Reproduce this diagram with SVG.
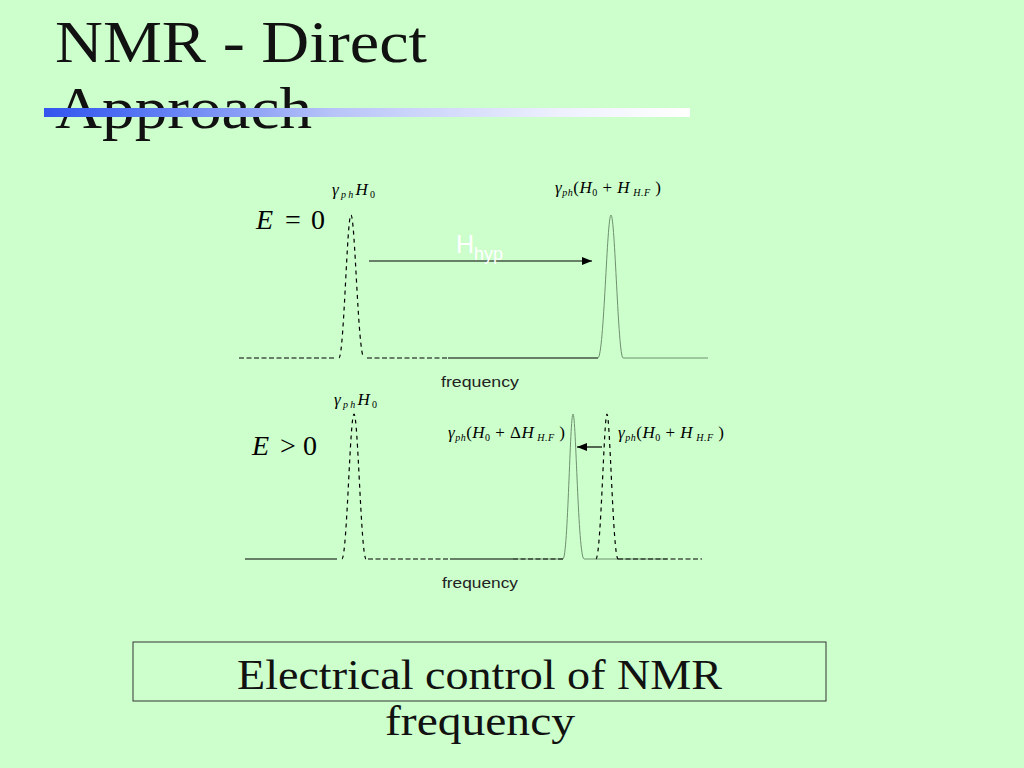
<svg xmlns="http://www.w3.org/2000/svg" width="1024" height="768" viewBox="0 0 1024 768">
<defs>
<linearGradient id="bar" x1="0" y1="0" x2="1" y2="0">
<stop offset="0" stop-color="#3355ee"/>
<stop offset="0.12" stop-color="#4d6ef2"/>
<stop offset="0.45" stop-color="#b8c4f8"/>
<stop offset="0.8" stop-color="#eef0fd"/>
<stop offset="1" stop-color="#ffffff"/>
</linearGradient>
<marker id="ah" viewBox="0 0 10 8" refX="10" refY="4" markerWidth="10" markerHeight="8" markerUnits="userSpaceOnUse" orient="auto">
<path d="M0,0 L10,4 L0,8 Z" fill="#000"/>
</marker>
</defs>
<style>
.title{font-family:"Liberation Serif",serif;font-size:60px;fill:#111}
.cap{font-family:"Liberation Serif",serif;font-size:42px;fill:#111}
.freq{font-family:"Liberation Sans",Arial,sans-serif;font-size:15px;fill:#222}
.math{font-family:"Liberation Serif",serif;font-style:italic;font-size:17px;fill:#000}
.big{font-family:"Liberation Serif",serif;font-size:28px;fill:#000}
.dash{fill:none;stroke:#000;stroke-width:1.2;stroke-dasharray:5 2.5}
.dpeak{fill:none;stroke:#000;stroke-width:1.2;stroke-dasharray:4 4}
.solid{fill:none;stroke:#000;stroke-width:1.2}
.gray{fill:none;stroke:#6f8f6f;stroke-width:1}
.arrow{fill:none;stroke:#000;stroke-width:1.2}
</style>
<rect width="1024" height="768" fill="#ccffcc"/>

<g id="title">
<text class="title" x="55" y="62" textLength="372" lengthAdjust="spacingAndGlyphs">NMR - Direct</text>
<text class="title" x="55" y="128" textLength="257" lengthAdjust="spacingAndGlyphs">Approach</text>
<rect x="44" y="108" width="646" height="9" fill="url(#bar)"/>
</g>

<g id="panel-e0">
<text class="big" x="256" y="229"><tspan font-style="italic">E</tspan><tspan x="285">=</tspan><tspan x="311">0</tspan></text>
<text class="math" x="332" y="195" textLength="43" lengthAdjust="spacing">γ<tspan font-size="10" dy="3">ph</tspan><tspan dy="-3">H</tspan><tspan font-size="10" font-style="normal" dy="3">0</tspan></text>
<text class="math" x="555" y="193" textLength="106" lengthAdjust="spacing">γ<tspan font-size="10" dy="3">ph</tspan><tspan dy="-3" font-style="normal">(</tspan><tspan>H</tspan><tspan font-size="10" font-style="normal" dy="3">0</tspan><tspan dy="-3" font-style="normal"> + </tspan><tspan>H</tspan><tspan font-size="10" dy="3"> H.F</tspan><tspan dy="-3" font-style="normal"> )</tspan></text>
<path class="dash" d="M239,358 H335"/>
<path class="dpeak" d="M339,358 C344,356 347,215 351,215 C355,215 358,356 364,358"/>
<path class="dash" d="M367,358 H448"/>
<path class="solid" d="M448,358 H598"/>
<path class="gray" d="M598,358 C604,356 607,215 611,215 C615,215 618,356 623,358 H708"/>
<text class="freq" x="441" y="387" textLength="78" lengthAdjust="spacingAndGlyphs">frequency</text>
</g>

<g id="panel-e1">
<text class="big" x="252" y="455"><tspan font-style="italic">E</tspan><tspan x="280">&gt;</tspan><tspan x="303">0</tspan></text>
<text class="math" x="334" y="405" textLength="43" lengthAdjust="spacing">γ<tspan font-size="10" dy="3">ph</tspan><tspan dy="-3">H</tspan><tspan font-size="10" font-style="normal" dy="3">0</tspan></text>
<text class="math" x="448" y="438" textLength="117" lengthAdjust="spacing">γ<tspan font-size="10" dy="3">ph</tspan><tspan dy="-3" font-style="normal">(</tspan><tspan>H</tspan><tspan font-size="10" font-style="normal" dy="3">0</tspan><tspan dy="-3" font-style="normal"> + Δ</tspan><tspan>H</tspan><tspan font-size="10" dy="3"> H.F</tspan><tspan dy="-3" font-style="normal"> )</tspan></text>
<text class="math" x="618" y="438" textLength="106" lengthAdjust="spacing">γ<tspan font-size="10" dy="3">ph</tspan><tspan dy="-3" font-style="normal">(</tspan><tspan>H</tspan><tspan font-size="10" font-style="normal" dy="3">0</tspan><tspan dy="-3" font-style="normal"> + </tspan><tspan>H</tspan><tspan font-size="10" dy="3"> H.F</tspan><tspan dy="-3" font-style="normal"> )</tspan></text>
<path class="solid" d="M245,559 H337"/>
<path class="dpeak" d="M342,559 C347,557 350,414 354,414 C358,414 361,557 366,559"/>
<path class="dash" d="M368,559 H450"/>
<path class="solid" d="M450,559 H513"/>
<path class="gray" d="M513,559 H563 C568,557 570,414 573,414 C576,414 578,557 584,559 H667"/>
<path class="dash" d="M513,559 H563"/>
<path class="dpeak" d="M596,559 C601,557 604,414 607,414 C610,414 613,557 618,559"/>
<path class="dash" d="M618,559 H702"/>
<text class="freq" x="442" y="588" textLength="76" lengthAdjust="spacingAndGlyphs">frequency</text>
</g>

<g id="connectors">
<path class="arrow" d="M369,261 H592" marker-end="url(#ah)"/>
<path class="arrow" d="M602,447 H577" marker-end="url(#ah)"/>
</g>

<g id="hhyp">
<text font-family="Liberation Sans,Arial,sans-serif" fill="#ffffff" font-size="25" x="456" y="253">H<tspan font-size="18" dy="7">hyp</tspan></text>
</g>

<g id="caption">
<rect x="133" y="642" width="693" height="59" fill="none" stroke="#333" stroke-width="1"/>
<text class="cap" x="237" y="689" textLength="485" lengthAdjust="spacingAndGlyphs">Electrical control of NMR</text>
<text class="cap" x="385" y="735" textLength="190" lengthAdjust="spacingAndGlyphs">frequency</text>
</g>
</svg>
